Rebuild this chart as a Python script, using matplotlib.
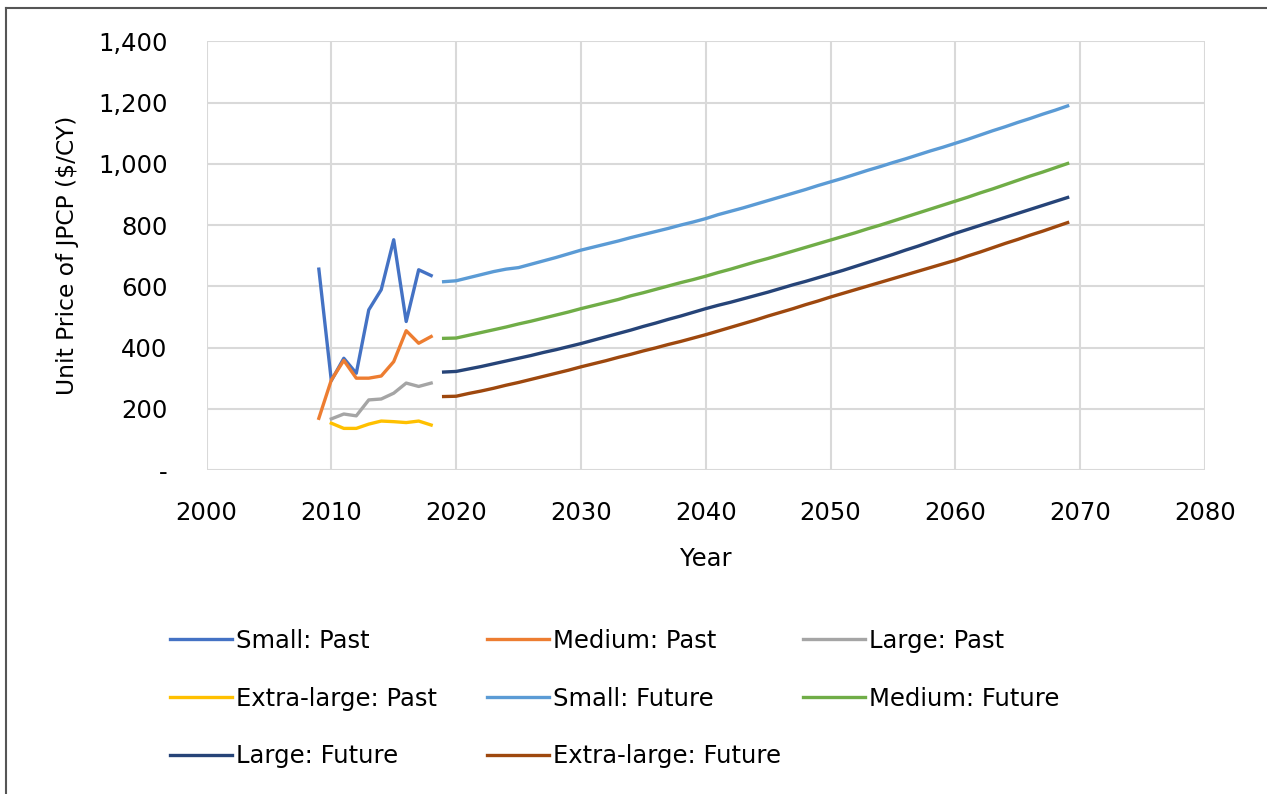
import numpy as np
import matplotlib.pyplot as plt
from matplotlib.ticker import FuncFormatter
from matplotlib.lines import Line2D

plt.rcParams['font.family'] = ['DejaVu Sans']

# past data (2009-2018)
years_past = list(range(2009, 2019))
years_past_l = list(range(2010, 2019))
small_past = [656, 292, 365, 316, 523, 589, 752, 485, 654, 635]
medium_past = [169, 294, 358, 300, 300, 307, 354, 455, 414, 436]
large_past = [167, 183, 177, 229, 232, 251, 284, 273, 284]
xl_past = [153, 136, 136, 150, 160, 158, 155, 160, 147]

# future data (2019-2069)
years_future = list(range(2019, 2070))
small_future = [615, 618, 628, 638, 648, 656, 661, 672, 683, 694, 706, 718,
                728, 738, 748, 759, 769, 779, 789, 800, 810, 821,
                834, 845, 856, 868, 880, 892, 904, 916, 929, 941,
                953, 966, 979, 991, 1004, 1016, 1029, 1042, 1054, 1067,
                1080, 1094, 1108, 1121, 1135, 1148, 1162, 1175, 1189]
medium_future = [430, 431, 440, 449, 458, 467, 477, 486, 496, 506, 516, 527,
                 537, 547, 557, 569, 579, 590, 601, 612, 622, 633,
                 645, 656, 668, 680, 691, 703, 715, 727, 739, 751,
                 763, 775, 788, 800, 813, 826, 839, 852, 865, 878,
                 891, 905, 918, 932, 946, 960, 973, 987, 1001]
large_future = [320, 322, 330, 338, 347, 356, 365, 374, 384, 393, 403, 413,
                424, 435, 446, 457, 469, 480, 492, 503, 515, 527,
                538, 548, 559, 570, 581, 593, 605, 616, 628, 640,
                652, 665, 678, 691, 704, 718, 731, 745, 759, 773,
                786, 799, 812, 825, 838, 851, 864, 877, 890]
xl_future = [240, 241, 250, 258, 267, 277, 286, 296, 306, 316, 326, 337,
             347, 357, 368, 378, 389, 399, 410, 420, 431, 442,
             454, 466, 478, 490, 503, 515, 527, 540, 552, 565,
             577, 589, 601, 613, 625, 637, 649, 661, 673, 685,
             699, 712, 726, 740, 753, 767, 780, 794, 808]

fig = plt.figure(figsize=(12.67, 7.94), dpi=100)
ax = fig.add_axes([0.163, 0.408, 0.788, 0.540])

lw = 2.4
h1, = ax.plot(years_past, small_past, color='#4472C4', lw=lw, label='Small: Past')
h2, = ax.plot(years_past, medium_past, color='#ED7D31', lw=lw, label='Medium: Past')
h3, = ax.plot(years_past_l, large_past, color='#A5A5A5', lw=lw, label='Large: Past')
h4, = ax.plot(years_past_l, xl_past, color='#FFC000', lw=lw, label='Extra-large: Past')
h5, = ax.plot(years_future, small_future, color='#5B9BD5', lw=lw, label='Small: Future')
h6, = ax.plot(years_future, medium_future, color='#70AD47', lw=lw, label='Medium: Future')
h7, = ax.plot(years_future, large_future, color='#264478', lw=lw, label='Large: Future')
h8, = ax.plot(years_future, xl_future, color='#9E480E', lw=lw, label='Extra-large: Future')

ax.set_xlim(2000, 2080)
ax.set_ylim(0, 1400)
ax.set_xticks(range(2000, 2081, 10))
ax.set_yticks(range(0, 1401, 200))
ax.yaxis.set_major_formatter(FuncFormatter(lambda v, p: '-' if v == 0 else f'{int(v):,}'))
ax.grid(True, color='#D9D9D9', lw=1.5)
ax.set_axisbelow(True)
for s in ax.spines.values():
    s.set_visible(False)
ax.tick_params(length=0, labelsize=17.5)
ax.tick_params(axis='x', pad=22)
ax.tick_params(axis='y', pad=28)
ax.set_xlabel('Year', fontsize=17.5, labelpad=16)
ax.set_ylabel('Unit Price of JPCP ($/CY)', fontsize=16.8, labelpad=14)

# legend: one column at a time so the columns sit at fixed spots
columns = [[h1, h4, h7], [h2, h5, h8], [h3, h6]]
col_x = [170, 487, 803]
for hs, x in zip(columns, col_x):
    fig.legend(handles=hs, labels=[h.get_label() for h in hs],
               loc='upper left', bbox_to_anchor=(x / 1267, 1 - 629 / 794),
               frameon=False, fontsize=17.5, handlelength=2.55, handletextpad=0.15,
               labelspacing=1.38, borderpad=0, borderaxespad=0)

# chart border (top and left edges visible)
fig.add_artist(Line2D([6 / 1267, 6 / 1267], [0, 1 - 8 / 794], transform=fig.transFigure,
                      color='#555555', lw=1.5))
fig.add_artist(Line2D([6 / 1267, 1], [1 - 8 / 794, 1 - 8 / 794], transform=fig.transFigure,
                      color='#555555', lw=1.5))

fig.savefig('out.png', dpi=100)
